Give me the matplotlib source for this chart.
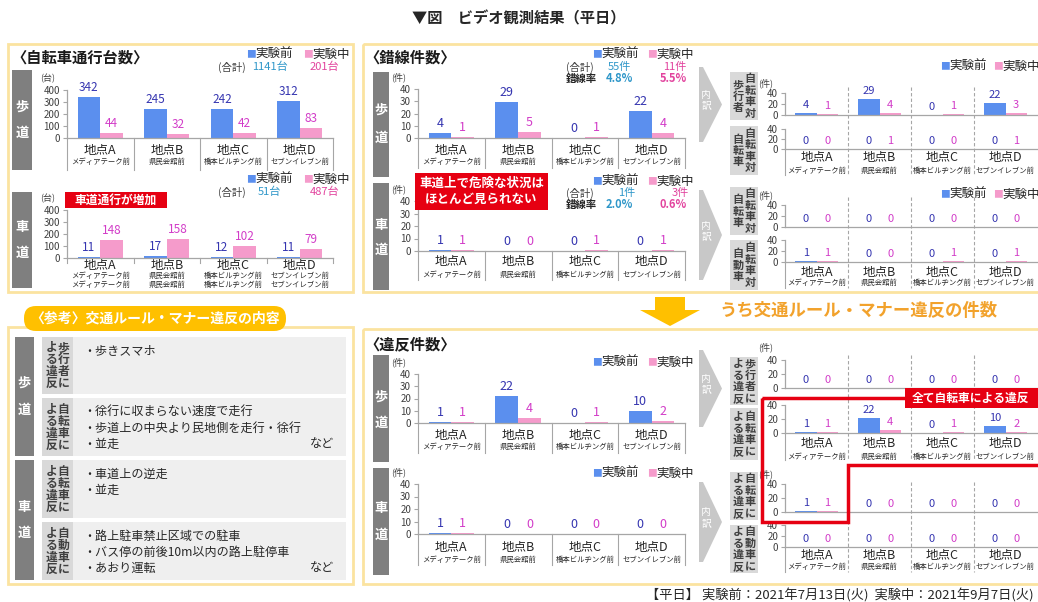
import numpy as np
import matplotlib.pyplot as plt
from matplotlib.patches import Rectangle, Polygon, FancyBboxPatch

plt.rcParams['font.family'] = ['Noto Sans CJK JP', 'DejaVu Sans']

# ---- data ----
SITES = ["地点A", "地点B", "地点C", "地点D"]
SUBS = ["メディアテーク前", "県民会館前", "橋本ビルヂング前", "セブンイレブン前"]

# 自転車通行台数
walk_before = [342, 245, 242, 312]
walk_during = [44, 32, 42, 83]
road_before = [11, 17, 12, 11]
road_during = [148, 158, 102, 79]

# 錯線件数
cross_walk_before = [4, 29, 0, 22]
cross_walk_during = [1, 5, 1, 4]
cross_road_before = [1, 0, 0, 0]
cross_road_during = [1, 0, 1, 1]
# 錯線 内訳
cw_ped_before = [4, 29, 0, 22]
cw_ped_during = [1, 4, 1, 3]
cw_bike_before = [0, 0, 0, 0]
cw_bike_during = [0, 1, 0, 1]
cr_bike_before = [0, 0, 0, 0]
cr_bike_during = [0, 0, 0, 0]
cr_car_before = [1, 0, 0, 0]
cr_car_during = [1, 0, 1, 1]

# 違反件数
vio_walk_before = [1, 22, 0, 10]
vio_walk_during = [1, 4, 1, 2]
vio_road_before = [1, 0, 0, 0]
vio_road_during = [1, 0, 0, 0]
# 違反 内訳
vw_ped_before = [0, 0, 0, 0]
vw_ped_during = [0, 0, 0, 0]
vw_bike_before = [1, 22, 0, 10]
vw_bike_during = [1, 4, 1, 2]
vr_bike_before = [1, 0, 0, 0]
vr_bike_during = [1, 0, 0, 0]
vr_car_before = [0, 0, 0, 0]
vr_car_during = [0, 0, 0, 0]

# ---- style ----
W, H = 1038, 602
BLUE = "#5B8FEE"
PINK = "#F59BCB"
NAVY = "#3535B0"
MAGENTA = "#D23CC8"
TEAL = "#2F97C9"
ROSE = "#E2449E"
AXIS = "#A6A6A6"
TXT = "#404040"
DARK = "#7F7F7F"
MID = "#D9D9D9"
LIGHT = "#EFEFEF"
FRAME = "#FBE3A0"
ORANGE = "#FFC000"
RED = "#E60012"

fig = plt.figure(figsize=(W / 100, H / 100), dpi=100)
bg = fig.add_axes([0, 0, 1, 1])
bg.set_xlim(0, W)
bg.set_ylim(H, 0)
bg.axis("off")


def rect(ax, x0, y0, x1, y1, **kw):
    ax.add_patch(Rectangle((x0, y0), x1 - x0, y1 - y0, **kw))


def vtext(ax, x, yc, s, step=11.5, **kw):
    n = len(s)
    for k, ch in enumerate(s):
        ax.text(x, yc + (k - (n - 1) / 2) * step, ch, ha="center", va="center", **kw)


def chart(x0, x1, ytop, yzero, before, during, ymax, step, unit=None, unit_dy=12,
          cat_dy=None, sub_dy=None, subs2=False, sep=None, fs=8, tick_fs=7):
    ax = fig.add_axes([x0 / W, 1 - yzero / H, (x1 - x0) / W, (yzero - ytop) / H])
    ax.patch.set_visible(False)
    idx = np.arange(len(SITES))
    ax.bar(idx - 0.17, before, 0.34, color=BLUE)
    ax.bar(idx + 0.17, during, 0.34, color=PINK)
    for i in idx:
        ax.annotate(str(before[i]), (i - 0.17, before[i]), xytext=(0, 3),
                    textcoords="offset pixels", ha="center", va="bottom",
                    fontsize=fs, color=NAVY)
        ax.annotate(str(during[i]), (i + 0.17, during[i]), xytext=(0, 3),
                    textcoords="offset pixels", ha="center", va="bottom",
                    fontsize=fs, color=MAGENTA)
    ax.set_xlim(-0.5, len(SITES) - 0.5)
    ax.set_ylim(0, ymax)
    ax.set_yticks(np.arange(0, ymax + 1, step))
    ax.set_xticks([])
    ax.tick_params(axis="y", length=3, width=0.8, color=AXIS, labelsize=tick_fs,
                   labelcolor=TXT, pad=2)
    for s in ("top", "right"):
        ax.spines[s].set_visible(False)
    for s in ("left", "bottom"):
        ax.spines[s].set_color(AXIS)
        ax.spines[s].set_linewidth(0.9)
    if unit:
        ax.annotate(unit, (0, 1), xycoords="axes fraction", xytext=(-12, unit_dy),
                    textcoords="offset pixels", ha="right", va="center",
                    fontsize=6.5, color=TXT)
    if cat_dy is not None:
        for i, (s, sub) in enumerate(zip(SITES, SUBS)):
            ax.annotate(s, (i, 0), xycoords=("data", "axes fraction"),
                        xytext=(0, -cat_dy), textcoords="offset pixels",
                        ha="center", va="center", fontsize=9, color="#262626")
            ax.annotate(sub, (i, 0), xycoords=("data", "axes fraction"),
                        xytext=(0, -sub_dy), textcoords="offset pixels",
                        ha="center", va="center", fontsize=5.3, color="#262626")
            if subs2:
                ax.annotate(sub, (i, 0), xycoords=("data", "axes fraction"),
                            xytext=(0, -sub_dy - 9), textcoords="offset pixels",
                            ha="center", va="center", fontsize=5.3, color="#262626")
    if sep:
        h = yzero - ytop
        for b in np.arange(-0.5, len(SITES)):
            ax.plot([b, b], [0, -sep / h], transform=ax.get_xaxis_transform(),
                    color=AXIS, lw=0.8, clip_on=False)
    return ax


def legend(ax, x, y, fs=9, gap=55):
    for k, (lab, c) in enumerate([("実験前", BLUE), ("実験中", PINK)]):
        ax.text(x + k * gap, y, "■", color=c, fontsize=fs - 2, ha="left", va="center")
        ax.text(x + k * gap + 9, y, lab, color="#262626", fontsize=fs, ha="left", va="center")


def gray_label(ax, x0, y0, x1, y1, s, ys):
    rect(ax, x0, y0, x1, y1, color=DARK, lw=0)
    for ch, yy in zip(s, ys):
        ax.text((x0 + x1) / 2, yy, ch, color="white", fontsize=9.5, fontweight="bold",
                ha="center", va="center")


def side_label(ax, x0, y0, x1, y1, left, right, fs=8, step=11.5):
    rect(ax, x0, y0, x1, y1, color=MID, lw=0)
    yc = (y0 + y1) / 2
    xm = (x0 + x1) / 2
    vtext(ax, xm - 6, yc, left, step=step, color=TXT, fontsize=fs, fontweight="bold")
    vtext(ax, xm + 6, yc, right, step=step, color=TXT, fontsize=fs, fontweight="bold")


def chevron(ax, x, y0, y1):
    ym = (y0 + y1) / 2
    ax.add_patch(Polygon([(x, y0), (x + 4, y0), (x + 23, ym), (x + 4, y1), (x, y1)],
                         closed=True, color="#C8C8C8", lw=0))
    vtext(ax, x + 7, ym - 4, "内訳", step=11, color="white", fontsize=7)


# ---- title ----
bg.text(519, 18, "▼図　ビデオ観測結果（平日）", ha="center", va="center",
        fontsize=11, fontweight="bold", color="#262626")

# ---- frames ----
rect(bg, 8, 44, 353, 292, fill=False, ec=FRAME, lw=2)
rect(bg, 363, 44, 1045, 292, fill=False, ec=FRAME, lw=2)
rect(bg, 8, 327, 353, 584, fill=False, ec=FRAME, lw=2)
rect(bg, 363, 329, 1045, 584, fill=False, ec=FRAME, lw=2)

# ---- 自転車通行台数 ----
bg.text(11, 58, "〈自転車通行台数〉", fontsize=11, fontweight="bold", va="center", color="#1a1a1a")
legend(bg, 246, 54, gap=57)
bg.text(218, 67, "(合計)", fontsize=7.5, color=TXT, va="center")
bg.text(252, 67, "1141台", fontsize=8, color=TEAL, va="center")
bg.text(310, 67, "201台", fontsize=8, color=ROSE, va="center")
gray_label(bg, 12, 70, 32, 170, "歩道", [107, 133])
chart(67, 333, 90, 138, walk_before, walk_during, 400, 100, unit="(台)",
      cat_dy=12, sub_dy=24, sep=32, fs=8.5)

legend(bg, 246, 179, gap=57)
bg.text(218, 192, "(合計)", fontsize=7.5, color=TXT, va="center")
bg.text(258, 192, "51台", fontsize=8, color=TEAL, va="center")
bg.text(310, 192, "487台", fontsize=8, color=ROSE, va="center")
gray_label(bg, 12, 192, 32, 288, "車道", [227, 253])
chart(67, 333, 210, 258, road_before, road_during, 400, 100, unit="(台)",
      cat_dy=7, sub_dy=18, subs2=True, sep=5, fs=8.5)

# ---- 錯線件数 ----
bg.text(364, 58, "〈錯線件数〉", fontsize=11, fontweight="bold", va="center", color="#1a1a1a")
legend(bg, 592, 54, gap=55)
bg.text(566, 67, "(合計)", fontsize=7.5, color=TXT, va="center")
bg.text(608, 67, "55件", fontsize=8, color=TEAL, va="center")
bg.text(663, 67, "11件", fontsize=8, color=ROSE, va="center")
bg.text(566, 79, "錯線率", fontsize=7.5, fontweight="bold", color="#262626", va="center")
bg.text(606, 79, "4.8%", fontsize=8, fontweight="bold", color=TEAL, va="center")
bg.text(660, 79, "5.5%", fontsize=8, fontweight="bold", color=ROSE, va="center")
gray_label(bg, 373, 72, 389, 177, "歩道", [110, 138])
chart(418, 685, 89, 138, cross_walk_before, cross_walk_during, 40, 10, unit="(件)",
      cat_dy=12, sub_dy=24, sep=30, fs=9)

legend(bg, 592, 181, gap=55)
bg.text(566, 193, "(合計)", fontsize=7.5, color=TXT, va="center")
bg.text(618, 193, "1件", fontsize=8, color=TEAL, va="center")
bg.text(672, 193, "3件", fontsize=8, color=ROSE, va="center")
bg.text(566, 205, "錯線率", fontsize=7.5, fontweight="bold", color="#262626", va="center")
bg.text(606, 205, "2.0%", fontsize=8, fontweight="bold", color=TEAL, va="center")
bg.text(660, 205, "0.6%", fontsize=8, fontweight="bold", color=ROSE, va="center")
gray_label(bg, 373, 183, 389, 290, "車道", [225, 250])
chart(418, 685, 201, 251, cross_road_before, cross_road_during, 40, 10, unit="(件)",
      cat_dy=11, sub_dy=24, sep=29, fs=9)

# 錯線 内訳
chevron(bg, 699, 67, 142)
chevron(bg, 699, 190, 280)
legend(bg, 940, 66, gap=53)
legend(bg, 940, 194, gap=53)
side_label(bg, 730, 72, 758, 120, "歩行者", "自転車対")
side_label(bg, 730, 126, 758, 175, "自転車", "自転車対")
side_label(bg, 730, 187, 758, 235, "自転車", "自転車対")
side_label(bg, 730, 240, 758, 290, "自動車", "自転車対")
chart(785, 1037, 93, 115, cw_ped_before, cw_ped_during, 40, 20, unit="(件)", unit_dy=10)
chart(785, 1037, 129, 149, cw_bike_before, cw_bike_during, 40, 20, cat_dy=9, sub_dy=22)
chart(785, 1037, 205, 227, cr_bike_before, cr_bike_during, 40, 20, unit="(件)", unit_dy=10)
chart(785, 1037, 240, 262, cr_car_before, cr_car_during, 40, 20, cat_dy=10, sub_dy=21)

# ---- orange arrow + caption ----
bg.add_patch(Polygon([(655, 297), (685, 297), (685, 310), (700, 310), (670, 326),
                      (640, 310), (655, 310)], closed=True, color=ORANGE, lw=0))
bg.text(720, 311, "うち交通ルール・マナー違反の件数", fontsize=12.5, fontweight="bold",
        color="#F2A22C", va="center")

# ---- 参考 table ----
bg.add_patch(FancyBboxPatch((24, 306), 262, 25, boxstyle="round,pad=0,rounding_size=12",
                            color=ORANGE, lw=0))
bg.text(155, 318.5, "〈参考〉交通ルール・マナー違反の内容", ha="center", va="center",
        fontsize=10, fontweight="bold", color="white")
gray_label(bg, 15, 337, 34, 456, "歩道", [383, 410])
gray_label(bg, 15, 460, 34, 580, "車道", [507, 533])
rows = [
    (337, 394, "歩行者に", ["・歩きスマホ"], False),
    (398, 456, "自転車に", ["・徐行に収まらない速度で走行",
                           "・歩道上の中央より民地側を走行・徐行", "・並走"], True),
    (460, 518, "自転車に", ["・車道上の逆走", "・並走"], False),
    (522, 580, "自動車に", ["・路上駐車禁止区域での駐車",
                           "・バス停の前後10m以内の路上駐停車", "・あおり運転"], True),
]
for y0, y1, who, lines, nado in rows:
    rect(bg, 73, y0, 346, y1, color=LIGHT, lw=0)
    side_label(bg, 42, y0, 73, y1, "よる違反", who, fs=8.5, step=12)
    for k, ln in enumerate(lines):
        bg.text(83, y0 + 14 + 16 * k, ln, fontsize=8.7, color="#262626", va="center")
    if nado:
        bg.text(310, y0 + 14 + 16 * (len(lines) - 1), "など", fontsize=8.7,
                color="#262626", va="center")

# ---- 違反件数 ----
bg.text(364, 344, "〈違反件数〉", fontsize=11, fontweight="bold", va="center", color="#1a1a1a")
legend(bg, 592, 362, gap=55)
gray_label(bg, 373, 355, 389, 462, "歩道", [397, 423])
chart(418, 685, 374, 423, vio_walk_before, vio_walk_during, 40, 10, unit="(件)",
      cat_dy=12, sub_dy=24, sep=30, fs=9)
legend(bg, 592, 473, gap=55)
gray_label(bg, 373, 468, 389, 575, "車道", [508, 535])
chart(418, 685, 484, 534, vio_road_before, vio_road_during, 40, 10, unit="(件)",
      cat_dy=13, sub_dy=26, sep=31, fs=9)

# 違反 内訳
chevron(bg, 699, 350, 427)
chevron(bg, 699, 482, 562)
side_label(bg, 730, 357, 758, 405, "よる違反", "歩行者に")
side_label(bg, 730, 408, 758, 460, "よる違反", "自転車に")
side_label(bg, 730, 472, 758, 520, "よる違反", "自転車に")
side_label(bg, 730, 525, 758, 573, "よる違反", "自動車に")
chart(785, 1037, 360, 388, vw_ped_before, vw_ped_during, 40, 20, unit="(件)", unit_dy=13)
chart(785, 1037, 405, 433, vw_bike_before, vw_bike_during, 40, 20, cat_dy=10, sub_dy=24)
chart(785, 1037, 484, 512, vr_bike_before, vr_bike_during, 40, 20, unit="(件)", unit_dy=10)
chart(785, 1037, 525, 547, vr_car_before, vr_car_during, 40, 20, cat_dy=8, sub_dy=20)

# dashed separators for the small breakdown charts
fg = fig.add_axes([0, 0, 1, 1], zorder=10)
fg.set_xlim(0, W)
fg.set_ylim(H, 0)
fg.axis("off")
cw = (1037 - 785) / len(SITES)
for ytop, yaxis, ybot in [(87, 149, 175), (197, 262, 288), (355, 433, 460), (482, 547, 572)]:
    for b in range(1, len(SITES)):
        bg.plot([785 + b * cw] * 2, [ytop, ybot], color=AXIS, lw=0.8, ls=(0, (3, 2)))
    bg.plot([785, 785], [yaxis, ybot], color=AXIS, lw=0.8)

# red callouts
rect(fg, 65, 192, 167, 208, color=RED, lw=0)
fg.text(116, 200, "車道通行が増加", ha="center", va="center", fontsize=8.5,
        fontweight="bold", color="white")
rect(fg, 415, 173, 548, 210, color=RED, lw=0)
fg.text(481.5, 191.5, "車道上で危険な状況は\nほとんど見られない", ha="center", va="center",
        fontsize=9, fontweight="bold", color="white", linespacing=1.3)
fg.add_patch(Polygon([(762, 398), (1045, 398), (1045, 465), (848, 465), (848, 522),
                      (762, 522)], closed=True, fill=False, ec=RED, lw=2.5))
rect(fg, 905, 388, 1045, 408, color=RED, lw=0)
fg.text(970, 398, "全て自転車による違反", ha="center", va="center", fontsize=8.5,
        fontweight="bold", color="white")

# footer
bg.text(1034, 596, "【平日】 実験前：2021年7月13日(火)  実験中：2021年9月7日(火)",
        ha="right", va="center", fontsize=9.5, color="#262626")

fig.savefig("out.png", dpi=100)
